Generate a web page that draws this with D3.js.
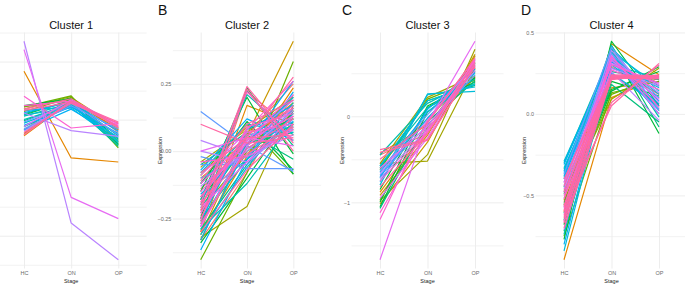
<!DOCTYPE html>
<html>
<head>
<meta charset="utf-8">
<script src="https://cdn.jsdelivr.net/npm/d3@7"></script>
<style>
body { margin: 0; background: #fff; }
text { font-family: "Liberation Sans", Arial, sans-serif; }
</style>
</head>
<body>
<div id="viz"></div>
<script>
const stages = ["HC", "ON", "OP"];
const clusterTitles = ["Cluster 1", "Cluster 2", "Cluster 3", "Cluster 4"];
const panelTags = ["A", "B", "C", "D"];

// ggplot hue palette, genes are grouped by colour
const hues = ["#F8766D", "#E58700", "#C99800", "#A3A500", "#6BB100", "#00BA38", "#00BF7D", "#00C0AF",
    "#00BCD8", "#00B0F6", "#619CFF", "#B983FF", "#E76BF3", "#FD61D1", "#FF67A4"];

// each row: [colour group, HC, ON, OP]
const cluster1 = [
    [1, -0.13, 0.17, -0.09], [2, -0.12, 0.19, -0.07], [3, 0.09, 0.20, -0.19], [4, 0.11, 0.205, -0.244],
    [4, 0.07, 0.19, -0.22], [5, 0.12, 0.18, -0.17], [5, 0.04, 0.17, -0.21], [6, 0.05, 0.16, -0.14],
    [6, -0.01, 0.14, -0.23], [7, 0.03, 0.14, -0.20], [7, 0.0, 0.13, -0.22], [7, -0.06, 0.12, -0.18],
    [8, -0.03, 0.12, -0.16], [8, 0.04, 0.10, -0.19], [8, 0.08, 0.11, -0.13], [9, -0.05, 0.11, -0.12],
    [9, 0.06, 0.15, -0.10], [9, -0.09, 0.09, -0.15], [10, -0.08, 0.12, -0.08], [10, -0.02, 0.14, -0.13],
    [11, -0.10, 0.15, -0.06], [11, 0.057, -0.095, -0.144], [11, 0.675, -0.891, -1.207], [12, -0.06, 0.17, -0.04],
    [12, 0.603, -0.670, -0.853], [13, 0.12, 0.16, -0.05], [13, 0.201, -0.072, -0.034], [14, 0.09, 0.18, -0.07],
    [14, -0.11, 0.14, -0.03], [14, 0.08, 0.15, -0.02], [14, -0.13, 0.16, -0.06], [0, 0.11, 0.17, -0.09],
    [0, -0.09, 0.19, -0.11], [1, 0.417, -0.330, -0.365], [1, -0.14, 0.16, -0.08]
];

const cluster2 = [
    [2, -0.31, 0.06, 0.408], [4, -0.403, -0.08, 0.333], [3, -0.32, -0.205, 0.17], [2, -0.33, 0.03, 0.12],
    [9, -0.367, -0.03, 0.22], [10, 0.147, 0.02, -0.075], [10, -0.02, -0.065, -0.065], [14, 0.10, 0.03, 0.05],
    [11, 0.04, -0.02, 0.06], [11, 0.0, -0.04, 0.09], [12, 0.0, 0.05, 0.02],
    [14, -0.22, 0.24, 0.03], [5, -0.25, 0.235, -0.01], [6, -0.18, 0.225, 0.02], [7, -0.20, 0.21, 0.06],
    [5, -0.15, 0.20, -0.085], [1, -0.30, 0.17, 0.10], [14, -0.26, 0.23, 0.00], [0, -0.28, 0.22, 0.08],
    [13, -0.19, 0.22, 0.04],
    [14, -0.20, 0.05, 0.275], [9, -0.33, 0.02, 0.26], [1, -0.30, -0.02, 0.235], [0, -0.24, 0.06, 0.25],
    [13, -0.23, 0.08, 0.26], [12, -0.17, 0.04, 0.21],
    [4, -0.09, 0.10, -0.085], [5, -0.12, 0.11, -0.07], [6, -0.05, 0.07, -0.03],
    [0, -0.14, 0.02, 0.14], [0, -0.20, 0.07, 0.19], [1, -0.10, 0.04, 0.18], [2, -0.06, 0.09, 0.15],
    [3, -0.22, -0.01, 0.13], [3, -0.04, 0.08, 0.20], [4, -0.26, 0.00, 0.10], [5, -0.18, 0.05, 0.12],
    [6, -0.29, -0.05, 0.16], [7, -0.12, 0.06, 0.09], [7, -0.25, -0.03, 0.18], [8, -0.27, 0.03, 0.20],
    [8, -0.08, 0.10, 0.07], [8, -0.31, -0.06, 0.14], [9, -0.16, 0.01, 0.11], [9, -0.07, 0.12, 0.04],
    [10, -0.10, -0.02, 0.16], [10, -0.23, 0.06, 0.08], [10, -0.05, -0.05, 0.12], [11, -0.13, 0.00, 0.15],
    [11, -0.28, 0.04, 0.19], [12, -0.09, 0.07, 0.10], [12, -0.21, -0.04, 0.13], [13, -0.15, 0.03, 0.17],
    [13, -0.25, 0.09, 0.14], [13, -0.04, -0.02, 0.08], [14, -0.17, 0.06, 0.16], [14, -0.27, 0.01, 0.12],
    [14, -0.11, 0.10, 0.19], [14, -0.30, -0.07, 0.10], [14, -0.08, 0.05, 0.06], [0, -0.33, -0.08, 0.21],
    [5, -0.34, -0.10, 0.15], [7, -0.29, -0.12, 0.11], [6, -0.21, 0.03, 0.07], [9, -0.26, 0.08, 0.17],
    [14, -0.19, -0.01, 0.09], [13, -0.12, 0.04, 0.13], [12, -0.28, 0.02, 0.16], [8, -0.17, -0.03, 0.10]
];

const cluster3 = [
    [12, -1.667, -0.08, 0.872], [13, -1.20, -0.05, 0.66], [3, -0.55, -0.52, 0.56], [3, -0.98, -0.446, 0.78],
    [2, -1.02, -0.30, 0.70], [4, -0.97, -0.12, 0.62], [5, -1.05, 0.05, 0.45], [5, -1.00, 0.12, 0.40],
    [8, -0.80, 0.26, 0.29], [8, -0.72, 0.25, 0.34], [14, -0.388, -0.27, 0.58], [1, -0.43, -0.10, 0.45],
    [0, -0.45, -0.20, 0.55], [14, -0.42, -0.28, 0.60], [3, -0.55, 0.22, 0.47], [4, -0.62, 0.20, 0.42],
    [6, -0.60, 0.18, 0.36], [7, -0.58, 0.10, 0.38], [7, -0.45, 0.15, 0.43], [8, -0.65, 0.05, 0.50],
    [9, -0.70, -0.02, 0.52], [9, -0.76, 0.08, 0.55], [10, -0.68, -0.10, 0.48], [10, -0.63, 0.02, 0.58],
    [11, -0.72, -0.15, 0.53], [11, -0.66, -0.05, 0.62], [12, -0.60, -0.12, 0.60], [13, -0.75, -0.18, 0.65],
    [14, -0.50, -0.08, 0.68], [14, -0.82, -0.20, 0.63], [0, -0.55, -0.03, 0.52], [1, -0.88, -0.14, 0.46],
    [2, -0.92, -0.22, 0.72], [5, -0.85, 0.10, 0.44], [6, -1.07, -0.06, 0.41], [13, -1.12, -0.16, 0.57],
    [8, -0.58, 0.18, 0.37], [12, -0.95, -0.25, 0.66]
];

const cluster4 = [
    [1, -0.895, 0.10, 0.22], [8, -0.84, 0.30, 0.10], [5, -0.77, 0.446, 0.05], [4, -0.75, 0.13, 0.20],
    [1, -0.60, 0.43, 0.24], [5, -0.55, 0.14, 0.29], [5, -0.68, 0.40, -0.12], [6, -0.45, 0.42, -0.08],
    [7, -0.30, 0.38, 0.02], [8, -0.29, 0.35, 0.12], [8, -0.33, 0.32, 0.16], [9, -0.31, 0.36, 0.08],
    [9, -0.36, 0.28, 0.19], [8, -0.38, 0.40, 0.14], [7, -0.34, 0.30, 0.22], [9, -0.40, 0.25, 0.05],
    [10, -0.42, 0.37, 0.10], [10, -0.48, 0.33, 0.02], [11, -0.44, 0.34, 0.13], [11, -0.52, 0.39, 0.07],
    [12, -0.46, 0.31, 0.18], [12, -0.58, 0.36, 0.00], [13, -0.50, 0.27, 0.15], [13, -0.62, 0.35, 0.04],
    [6, -0.72, 0.26, 0.21], [5, -0.65, 0.20, 0.11], [4, -0.56, 0.12, 0.23], [3, -0.53, 0.09, 0.28],
    [2, -0.47, 0.16, 0.20], [0, -0.54, 0.24, 0.06], [0, -0.66, 0.29, 0.12], [14, -0.40, 0.23, 0.23],
    [14, -0.44, 0.225, 0.22], [14, -0.48, 0.235, 0.225], [14, -0.52, 0.23, 0.23], [14, -0.56, 0.22, 0.215],
    [14, -0.60, 0.24, 0.235], [14, -0.63, 0.225, 0.23], [14, -0.67, 0.23, 0.22], [14, -0.70, 0.22, 0.225],
    [14, -0.59, 0.05, 0.31], [14, -0.64, 0.07, 0.30], [14, -0.57, 0.21, 0.24], [13, -0.42, 0.30, 0.19],
    [12, -0.66, 0.33, 0.09], [11, -0.71, 0.28, 0.17], [10, -0.37, 0.41, 0.03], [9, -0.80, 0.32, 0.06],
    [8, -0.35, 0.38, 0.17], [7, -0.74, 0.42, -0.02], [6, -0.61, 0.18, -0.05], [5, -0.49, 0.15, 0.26],
    [9, -0.39, 0.34, 0.00], [11, -0.57, 0.26, -0.04]
];

const clusters = [cluster1, cluster2, cluster3, cluster4];

// y axis breaks per panel
const majorTicks = [[-1, -0.5, 0, 0.5], [-0.25, 0, 0.25], [-1, 0], [-0.5, 0, 0.5]];
const minorTicks = [[-1.25, -0.75, -0.25, 0.25, 0.75], [-0.375, -0.125, 0.125, 0.375], [-1.5, -0.5, 0.5], [-0.75, -0.25, 0.25]];
const tickFormats = [".1f", ".2f", "d", ".1f"];

const width = 685;
const height = 285;

// panel boxes; the figure is cropped, panel A's y axis and tag fall outside
const panels = [
    {left: -4.3, right: 146.6, tagX: null, ylabX: null},
    {left: 172.9, right: 321.1, tagX: 158, ylabX: 159.5},
    {left: 351.5, right: 503.5, tagX: 342, ylabX: 342},
    {left: 535.5, right: 687.5, tagX: 521, ylabX: 524}
];
const panelTop = 32.5, panelBottom = 268.5;

const svg = d3.select("#viz")
    .append("svg")
    .attr("width", width)
    .attr("height", height)
    .style("display", "block");

const color = d3.scaleOrdinal()
    .domain(d3.range(hues.length))
    .range(hues);

const render = (data, i) => {
    const p = panels[i];
    const w = p.right - p.left;

    const x = d3.scalePoint()
        .domain(stages)
        .range([p.left, p.right])
        .padding(0.6);

    const ext = d3.extent(data.flatMap(d => d.slice(1)));
    const pad = (ext[1] - ext[0]) * 0.04;
    const y = d3.scaleLinear()
        .domain([ext[0] - pad, ext[1] + pad])
        .range([panelBottom, panelTop]);

    const g = svg.append("g");

    // grid
    g.append("g")
        .attr("transform", `translate(${p.left},0)`)
        .call(d3.axisLeft(y).tickValues(minorTicks[i]).tickSize(-w).tickFormat(""))
        .call(a => a.select(".domain").remove())
        .call(a => a.selectAll("line").attr("stroke", "#EFEFEF").attr("stroke-width", 0.8));
    g.append("g")
        .attr("transform", `translate(${p.left},0)`)
        .call(d3.axisLeft(y).tickValues(majorTicks[i]).tickSize(-w).tickFormat(""))
        .call(a => a.select(".domain").remove())
        .call(a => a.selectAll("line").attr("stroke", "#EBEBEB").attr("stroke-width", 0.9));
    g.append("g")
        .attr("transform", `translate(0,${panelBottom})`)
        .call(d3.axisBottom(x).tickSize(-(panelBottom - panelTop)).tickFormat(""))
        .call(a => a.select(".domain").remove())
        .call(a => a.selectAll("line").attr("stroke", "#EBEBEB").attr("stroke-width", 0.9));

    // gene profiles
    const line = d3.line()
        .x((d, k) => x(stages[k]))
        .y(d => y(d));

    const rows = data.slice().sort((a, b) => a[0] - b[0]);
    g.append("g").selectAll("path").data(rows)
        .enter().append("path")
            .attr("d", d => line(d.slice(1)))
            .attr("fill", "none")
            .attr("stroke", d => color(d[0]))
            .attr("stroke-width", 1.2)
            .attr("stroke-linejoin", "round");

    // x axis labels
    g.append("g")
        .attr("transform", `translate(0,${panelBottom})`)
        .call(d3.axisBottom(x).tickSize(0).tickPadding(3))
        .call(a => a.select(".domain").remove())
        .call(a => a.selectAll("text").attr("font-size", 5.5).attr("fill", "#6b6b6b")
            .attr("font-family", "Liberation Sans, Arial, sans-serif"));
    g.append("text")
        .attr("x", (p.left + p.right) / 2)
        .attr("y", 283)
        .attr("text-anchor", "middle")
        .attr("font-size", 5.5)
        .attr("fill", "#222")
        .text("Stage");

    g.append("text")
        .attr("x", (p.left + p.right) / 2)
        .attr("y", 29)
        .attr("text-anchor", "middle")
        .attr("font-size", 11)
        .attr("fill", "#111")
        .text(clusterTitles[i]);

    if (p.tagX === null) return;

    // y axis labels
    g.append("g")
        .attr("transform", `translate(${p.left},0)`)
        .call(d3.axisLeft(y).tickValues(majorTicks[i]).tickSize(0).tickPadding(1.5)
            .tickFormat(d3.format(tickFormats[i])))
        .call(a => a.select(".domain").remove())
        .call(a => a.selectAll("text").attr("font-size", 5.5).attr("fill", "#6b6b6b")
            .attr("font-family", "Liberation Sans, Arial, sans-serif"));
    g.append("text")
        .attr("transform", `translate(${p.ylabX + 2},${(panelTop + panelBottom) / 2}) rotate(-90)`)
        .attr("text-anchor", "middle")
        .attr("font-size", 5.5)
        .attr("fill", "#222")
        .text("Expression");
    g.append("text")
        .attr("x", p.tagX)
        .attr("y", 14.5)
        .attr("font-size", 14)
        .attr("fill", "#111")
        .text(panelTags[i]);
};

clusters.forEach(render);
</script>
</body>
</html>
